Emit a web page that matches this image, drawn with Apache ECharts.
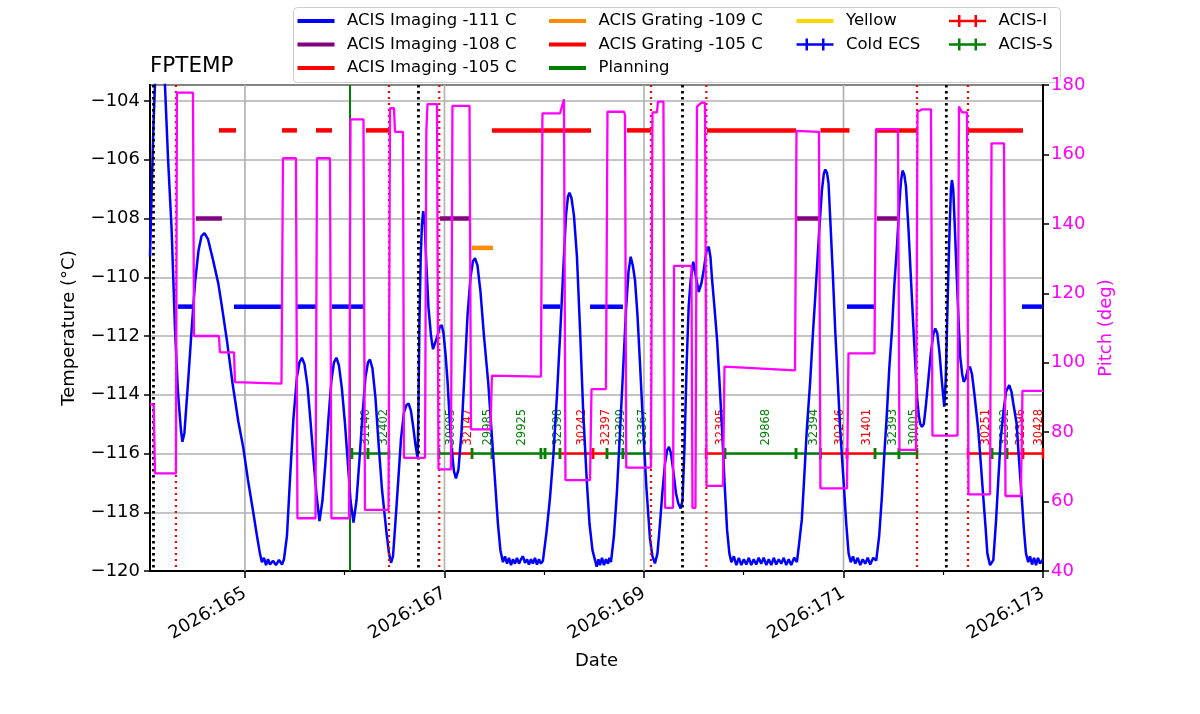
<!DOCTYPE html>
<html lang="en">
<head>
<meta charset="UTF-8">
<title>FPTEMP</title>
<script src="https://cdn.jsdelivr.net/npm/echarts@6/dist/echarts.min.js"></script>
<style>
    html, body { margin: 0; padding: 0; background: #fff; }
    #chart { width: 1200px; height: 714px; }
</style>
</head>
<body>
<div id="chart"></div>
<script type="text/javascript">
    // day of year 2026 -> value
    const xMin = 164.048, xMax = 173.0;
    const dayTicks = [165, 167, 169, 171, 173];
    const dayMinorTicks = [166, 168, 170, 172];
    const dayGrid = [165, 167, 169, 171];

    // FPTEMP model (deg C)
    const fptemp = [
        [164.048, -109.3], [164.065, -107.0], [164.083, -104.8], [164.098, -103.4], [164.118, -102.2],
        [164.148, -101.8], [164.178, -102.8], [164.198, -103.46], [164.228, -105.9], [164.265, -108.4],
        [164.298, -111.7], [164.328, -113.9], [164.358, -115.2], [164.373, -115.6], [164.393, -115.3],
        [164.431, -113.5], [164.469, -111.6], [164.499, -110.2], [164.534, -109.1], [164.564, -108.6],
        [164.594, -108.5], [164.629, -108.7], [164.679, -109.4], [164.732, -110.2], [164.769, -111.0],
        [164.817, -112.1], [164.875, -113.6], [164.933, -114.9], [164.983, -115.8], [165.030, -116.9],
        [165.083, -118.0], [165.120, -118.8], [165.150, -119.4], [165.170, -119.7], [165.190, -119.55],
        [165.211, -119.8], [165.231, -119.6], [165.251, -119.78], [165.281, -119.65], [165.311, -119.8],
        [165.341, -119.62], [165.371, -119.78], [165.391, -119.6], [165.421, -118.8], [165.451, -116.9],
        [165.486, -114.8], [165.521, -113.4], [165.546, -112.9], [165.571, -112.74], [165.596, -112.95],
        [165.627, -113.7], [165.657, -114.9], [165.687, -116.2], [165.717, -117.4], [165.747, -118.3],
        [165.777, -117.6], [165.807, -116.3], [165.837, -114.8], [165.867, -113.5], [165.892, -112.9],
        [165.917, -112.74], [165.942, -113.0], [165.972, -113.8], [166.003, -115.0], [166.033, -116.4],
        [166.058, -117.6], [166.088, -118.35], [166.118, -117.6], [166.148, -116.2], [166.178, -114.7],
        [166.208, -113.4], [166.233, -112.9], [166.253, -112.8], [166.278, -113.1], [166.308, -114.1],
        [166.338, -115.6], [166.373, -117.2], [166.419, -118.7], [166.444, -119.4], [166.464, -119.72],
        [166.484, -119.5], [166.509, -118.3], [166.537, -116.9], [166.564, -115.5], [166.594, -114.6],
        [166.619, -114.35], [166.641, -114.3], [166.664, -114.55], [166.687, -115.1], [166.709, -115.7],
        [166.731, -116.16], [166.739, -114.5], [166.749, -111.5], [166.762, -109.3], [166.774, -108.2],
        [166.787, -107.75], [166.802, -108.2], [166.819, -109.6], [166.839, -111.0], [166.865, -112.0],
        [166.885, -112.45], [166.905, -112.45], [166.930, -112.0], [166.952, -111.7], [166.972, -111.63],
        [166.990, -111.9], [167.010, -112.6], [167.030, -113.5], [167.050, -114.7], [167.070, -115.8],
        [167.095, -116.6], [167.115, -116.85], [167.140, -116.55], [167.170, -115.3], [167.201, -113.3],
        [167.231, -111.3], [167.261, -110.0], [167.286, -109.45], [167.306, -109.35], [167.331, -109.6],
        [167.361, -110.5], [167.396, -112.0], [167.439, -113.6], [167.471, -115.2], [167.506, -116.9],
        [167.536, -118.4], [167.561, -119.3], [167.586, -119.7], [167.607, -119.5], [167.627, -119.75],
        [167.647, -119.55], [167.667, -119.8], [167.687, -119.6], [167.707, -119.75], [167.727, -119.55],
        [167.747, -119.75], [167.767, -119.6], [167.787, -119.5], [167.807, -119.72], [167.827, -119.6],
        [167.847, -119.78], [167.867, -119.6], [167.887, -119.75], [167.907, -119.55], [167.927, -119.78],
        [167.947, -119.6], [167.967, -119.75], [167.987, -119.65], [168.022, -118.7], [168.058, -117.5],
        [168.093, -116.0], [168.128, -114.0], [168.163, -111.7], [168.193, -109.6], [168.218, -107.9],
        [168.238, -107.25], [168.253, -107.12], [168.273, -107.3], [168.298, -107.9], [168.328, -109.3],
        [168.358, -111.7], [168.391, -114.6], [168.426, -116.9], [168.454, -118.4], [168.484, -119.3],
        [168.526, -119.85], [168.544, -119.6], [168.559, -119.8], [168.579, -119.55], [168.599, -119.8],
        [168.619, -119.6], [168.639, -119.75], [168.654, -119.55], [168.669, -119.7],
        [168.699, -118.8], [168.729, -117.3], [168.759, -115.3], [168.790, -113.2], [168.820, -111.1],
        [168.845, -109.8], [168.867, -109.3], [168.888, -109.6], [168.910, -110.1], [168.935, -111.3],
        [168.960, -112.93], [168.993, -115.2], [169.025, -117.2], [169.060, -118.9], [169.085, -119.5],
        [169.110, -119.74], [169.135, -119.4], [169.160, -118.4], [169.185, -117.3], [169.211, -116.33],
        [169.231, -115.9], [169.251, -115.77], [169.271, -116.0], [169.294, -116.6], [169.321, -117.35],
        [169.344, -117.7], [169.368, -117.87], [169.386, -117.6], [169.406, -115.8], [169.428, -112.93],
        [169.448, -111.0], [169.468, -110.1], [169.494, -109.47], [169.516, -109.9], [169.549, -110.5],
        [169.576, -110.2], [169.599, -109.75], [169.626, -109.1], [169.649, -108.96], [169.666, -109.3],
        [169.683, -110.1], [169.706, -111.0], [169.733, -112.14], [169.756, -113.5], [169.783, -115.2],
        [169.806, -116.9], [169.833, -118.6], [169.856, -119.4], [169.876, -119.7], [169.901, -119.5],
        [169.926, -119.8], [169.951, -119.55], [169.976, -119.8], [170.001, -119.6], [170.026, -119.78],
        [170.051, -119.55], [170.075, -119.8], [170.100, -119.6], [170.125, -119.78], [170.150, -119.55],
        [170.175, -119.75], [170.200, -119.55], [170.226, -119.8], [170.251, -119.6], [170.276, -119.8],
        [170.301, -119.55], [170.326, -119.78], [170.351, -119.6], [170.376, -119.75], [170.401, -119.55],
        [170.426, -119.8], [170.451, -119.6], [170.476, -119.8], [170.505, -119.55], [170.533, -119.7],
        [170.554, -119.1], [170.582, -118.26], [170.605, -116.9],
        [170.632, -115.2], [170.667, -113.5], [170.692, -112.0], [170.717, -110.66], [170.757, -108.39],
        [170.784, -107.03], [170.802, -106.5], [170.817, -106.33], [170.835, -106.45], [170.850, -106.8],
        [170.867, -108.0], [170.892, -109.8], [170.917, -111.8], [170.942, -113.5], [170.967, -115.2],
        [171.000, -116.9], [171.028, -118.4], [171.051, -119.4], [171.073, -119.7], [171.095, -119.5],
        [171.118, -119.75], [171.143, -119.55], [171.168, -119.8], [171.193, -119.6], [171.218, -119.75],
        [171.243, -119.55], [171.268, -119.78], [171.298, -119.55], [171.328, -119.65], [171.358, -118.8],
        [171.385, -117.47], [171.408, -116.1], [171.435, -114.63], [171.459, -113.1], [171.486, -111.8],
        [171.509, -110.3], [171.536, -108.96], [171.562, -107.4], [171.577, -106.7], [171.592, -106.37],
        [171.609, -106.5], [171.626, -106.9], [171.652, -108.39], [171.677, -110.1], [171.702, -111.8],
        [171.737, -114.07], [171.755, -114.7], [171.770, -115.0], [171.787, -115.09], [171.805, -115.0],
        [171.825, -114.4], [171.850, -113.5], [171.875, -112.6], [171.900, -111.95], [171.920, -111.74],
        [171.940, -111.9], [171.963, -112.6], [171.985, -113.5], [172.010, -114.41], [172.025, -113.5],
        [172.037, -111.8], [172.050, -110.0], [172.065, -108.2], [172.077, -107.0], [172.087, -106.69],
        [172.100, -107.0], [172.115, -108.2], [172.137, -110.1], [172.155, -111.6], [172.170, -112.7],
        [172.190, -113.3], [172.205, -113.56], [172.225, -113.45], [172.245, -113.15], [172.268, -113.05],
        [172.288, -113.3], [172.313, -114.0], [172.351, -115.2], [172.378, -116.4], [172.401, -117.47],
        [172.424, -118.5], [172.442, -119.4], [172.469, -119.8], [172.502, -119.63], [172.529, -118.3],
        [172.552, -116.9], [172.576, -115.5], [172.602, -114.63], [172.629, -113.9], [172.662, -113.67],
        [172.684, -113.9], [172.702, -114.29], [172.736, -115.0], [172.759, -116.2], [172.786, -117.47],
        [172.809, -118.6], [172.829, -119.4], [172.852, -119.7], [172.870, -119.5], [172.890, -119.78],
        [172.910, -119.55], [172.930, -119.8], [172.950, -119.55], [172.970, -119.75], [173.000, -119.6]
    ];

    // pitch (deg)
    const pitch = [
        [164.048, 88.0], [164.085, 88.0], [164.098, 68.1], [164.308, 68.1], [164.318, 177.8],
        [164.479, 177.8], [164.489, 107.7], [164.739, 107.7], [164.749, 103.0], [164.890, 103.0],
        [164.900, 94.4], [165.366, 94.0], [165.381, 158.9], [165.511, 158.9], [165.526, 55.2],
        [165.707, 55.2], [165.722, 158.9], [165.852, 158.9], [165.867, 55.2], [166.043, 55.2],
        [166.058, 170.1], [166.188, 170.1], [166.203, 57.6], [166.439, 57.6], [166.454, 173.3],
        [166.494, 173.3], [166.504, 166.5], [166.584, 166.5], [166.594, 72.6], [166.805, 72.6],
        [166.818, 166.5], [166.830, 174.5], [166.925, 174.5], [166.940, 69.3], [167.065, 69.3],
        [167.080, 174.0], [167.251, 174.0], [167.266, 80.8], [167.461, 80.8], [167.476, 96.3],
        [167.967, 96.0], [167.982, 171.8], [168.158, 171.8], [168.198, 175.9], [168.213, 66.2],
        [168.459, 66.2], [168.474, 92.4], [168.619, 92.4], [168.634, 172.3], [168.800, 172.3],
        [168.810, 171.3], [168.822, 69.8], [169.070, 69.8], [169.085, 172.1], [169.130, 172.1],
        [169.140, 175.2], [169.195, 175.2], [169.211, 58.2], [169.291, 58.2], [169.301, 127.9],
        [169.476, 127.9], [169.486, 58.2], [169.516, 58.2], [169.531, 173.8], [169.576, 174.9],
        [169.612, 174.9], [169.627, 64.5], [169.792, 64.5], [169.807, 98.9], [170.514, 97.8],
        [170.529, 166.8], [170.754, 166.5], [170.769, 63.8], [171.035, 63.8], [171.050, 102.7],
        [171.311, 102.7], [171.326, 167.3], [171.546, 167.3], [171.561, 74.9], [171.727, 74.9],
        [171.742, 172.3], [171.790, 173.0], [171.877, 173.0], [171.892, 79.0], [172.143, 79.0],
        [172.158, 173.8], [172.175, 173.8], [172.190, 172.1], [172.238, 172.1], [172.253, 62.1],
        [172.469, 62.1], [172.484, 163.2], [172.609, 163.2], [172.624, 61.6], [172.779, 61.6],
        [172.794, 91.9], [173.000, 91.9]
    ];

    // limit bars: [start, end]
    const imaging111 = [[164.328, 164.479], [164.890, 165.371], [165.521, 165.712], [165.872, 166.183],
        [167.987, 168.158], [168.459, 168.789], [171.035, 171.316], [172.789, 173.0]];
    const imaging108 = [[164.509, 164.769], [166.955, 167.246], [170.534, 170.754], [171.336, 171.536]];
    const imaging105 = [[164.739, 164.910], [165.371, 165.521], [165.712, 165.872], [166.213, 166.454],
        [167.476, 168.469], [168.830, 169.070], [169.632, 170.524], [170.769, 171.060],
        [171.326, 171.737], [172.248, 172.799]];
    const grating109 = [[167.276, 167.486]];
    const limitLevels = {i111: -111, i108: -108, i105: -105, g109: -109};

    // vertical event lines
    const blackDotted = [164.083, 166.739, 169.386, 172.031];
    const redDotted = [164.308, 166.444, 166.948, 169.070, 169.625, 171.737, 172.248];
    const planningDays = [166.053];

    // observations
    const obsIds = ['31140', '32402', '30005', '32147', '29985', '29925', '', '32398', '30242', '32397',
        '32399', '32367', '32395', '29868', '32394', '30246', '31401', '32393', '30005', '30251',
        '32392', '32396', '30428'];
    const obsInstr = ['S', 'S', 'S', 'I', 'S', 'S', 'S', 'S', 'I', 'I',
        'S', 'S', 'I', 'S', 'S', 'I', 'I', 'S', 'S', 'I',
        'S', 'I', 'I'];
    const obsStart = [166.073, 166.233, 166.945, 167.075, 167.276, 167.476, 167.967, 168.008, 168.158, 168.489,
        168.629, 168.789, 169.622, 169.812, 170.524, 170.769, 171.035, 171.316, 171.556, 172.248,
        172.489, 172.639, 172.799];
    const obsEnd = [166.233, 166.444, 167.075, 167.276, 167.476, 167.967, 168.008, 168.158, 168.489, 168.629,
        168.789, 169.070, 169.812, 170.524, 170.769, 171.035, 171.316, 171.556, 171.737, 172.489,
        172.639, 172.799, 173.0];
    const acisLevel = -116;

    const FONT = 'DejaVu Sans';
    const BLUE = '#0000ff', PURPLE = '#800080', RED = '#ff0000', ORANGE = '#ff8c00',
        GOLD = '#ffd700', GREEN = '#008000', MAGENTA = '#ff00ff';

    function barSeries(name, segs, level, color) {
        return {
            name: name,
            type: 'custom',
            z: 3,
            itemStyle: {color: color},
            data: segs.map(s => [s[0], s[1], level]),
            encode: {x: [0, 1], y: 2},
            renderItem: function (params, api) {
                const a = api.coord([api.value(0), api.value(2)]);
                const b = api.coord([api.value(1), api.value(2)]);
                return {
                    type: 'line',
                    shape: {x1: a[0], y1: a[1], x2: b[0], y2: b[1]},
                    style: {stroke: color, lineWidth: 4.5}
                };
            }
        };
    }

    function vlineSeries(name, days, color, width, dash, z) {
        return {
            name: name,
            type: 'custom',
            z: z,
            silent: true,
            itemStyle: {color: color},
            data: days.map(d => [d, -120]),
            encode: {x: 0, y: 1},
            renderItem: function (params, api) {
                const p = api.coord([api.value(0), api.value(1)]);
                const cs = params.coordSys;
                return {
                    type: 'line',
                    shape: {x1: p[0], y1: cs.y, x2: p[0], y2: cs.y + cs.height},
                    style: {stroke: color, lineWidth: width, lineDash: dash}
                };
            }
        };
    }

    function acisSeries(name, instr, color) {
        const rows = [];
        for (let i = 0; i < obsIds.length; i++) {
            if (obsInstr[i] === instr) rows.push([obsStart[i], obsEnd[i], acisLevel, obsIds[i]]);
        }
        return {
            name: name,
            type: 'custom',
            z: 4,
            itemStyle: {color: color},
            data: rows,
            encode: {x: [0, 1], y: 2},
            renderItem: function (params, api) {
                const x0 = api.value(0), x1 = api.value(1);
                const a = api.coord([x0, api.value(2)]);
                const b = api.coord([x1, api.value(2)]);
                const m = api.coord([(x0 + x1) / 2, api.value(2)]);
                const label = rows[params.dataIndex][3];
                const children = [
                    {type: 'line', shape: {x1: a[0], y1: a[1], x2: b[0], y2: b[1]},
                        style: {stroke: color, lineWidth: 2.5}},
                    {type: 'rect', shape: {x: a[0] - 1.25, y: a[1] - 5.5, width: 2.5, height: 11},
                        style: {fill: color}},
                    {type: 'rect', shape: {x: b[0] - 1.25, y: b[1] - 5.5, width: 2.5, height: 11},
                        style: {fill: color}}
                ];
                if (label) {
                    children.push({
                        type: 'text',
                        x: m[0], y: m[1] - 8,
                        rotation: Math.PI / 2,
                        style: {text: label, fill: color, fontSize: 11.5, fontFamily: FONT,
                            align: 'left', verticalAlign: 'top'}
                    });
                }
                return {type: 'group', children: children};
            }
        };
    }

    const crossIcon = 'path://M0,4.75H37V7.25H0Z M9,0H11.5V12H9Z M25.5,0H28V12H25.5Z';

    const legendBase = {
        orient: 'vertical',
        itemWidth: 37,
        itemHeight: 4,
        itemGap: 5.5,
        padding: 0,
        icon: 'rect',
        selectedMode: false,
        textStyle: {fontSize: 16.5, color: '#000', fontFamily: FONT, lineHeight: 18, padding: [0, 0, 0, 7.5]}
    };

    const chart = echarts.init(document.getElementById('chart'));

    const option = {
        animation: false,
        backgroundColor: '#fff',
        textStyle: {fontFamily: FONT},
        title: {
            text: 'FPTEMP', left: 150, top: 55, padding: 0,
            textStyle: {fontSize: 21.5, fontWeight: 'normal', color: '#000', fontFamily: FONT}
        },
        graphic: [{
            type: 'rect', left: 293, top: 7, z: 0,
            shape: {width: 767, height: 75, r: 4},
            style: {fill: 'rgba(255,255,255,0.85)', stroke: '#cccccc', lineWidth: 1}
        }],
        legend: [
            Object.assign({}, legendBase, {left: 297.5, top: 12,
                data: ['ACIS Imaging -111 C', 'ACIS Imaging -108 C', 'ACIS Imaging -105 C']}),
            Object.assign({}, legendBase, {left: 549, top: 12,
                data: ['ACIS Grating -109 C', 'ACIS Grating -105 C', 'Planning']}),
            Object.assign({}, legendBase, {left: 796.5, top: 12, data: ['Yellow']}),
            Object.assign({}, legendBase, {left: 796.5, top: 35.5, itemHeight: 12,
                data: [{name: 'Cold ECS', icon: crossIcon}]}),
            Object.assign({}, legendBase, {left: 949, top: 12, itemHeight: 12,
                data: [{name: 'ACIS-I', icon: crossIcon}, {name: 'ACIS-S', icon: crossIcon}]})
        ],
        grid: {
            left: 150, top: 85, width: 893, height: 486,
            show: true, borderColor: '#000', borderWidth: 2, backgroundColor: 'transparent'
        },
        xAxis: [{
            type: 'value', min: xMin, max: xMax,
            name: 'Date', nameLocation: 'middle', nameGap: 81,
            nameTextStyle: {fontSize: 18, color: '#000'},
            axisLine: {show: true, lineStyle: {color: '#000', width: 2}},
            axisTick: {show: true, length: 7, customValues: dayTicks, lineStyle: {color: '#000', width: 1.5}},
            axisLabel: {
                customValues: dayTicks, rotate: 30, fontSize: 18, color: '#000', margin: 21,
                formatter: v => '2026:' + Math.round(v)
            },
            splitLine: {show: false}
        }, {
            type: 'value', min: xMin, max: xMax, position: 'bottom',
            axisLine: {show: false},
            axisTick: {show: true, length: 4, customValues: dayMinorTicks, lineStyle: {color: '#000', width: 1.2}},
            axisLabel: {show: false},
            splitLine: {show: false}
        }],
        yAxis: [{
            type: 'value', min: -120, max: -103.455, interval: 2, position: 'left',
            name: 'Temperature (°C)', nameLocation: 'middle', nameGap: 72, nameRotate: 90,
            nameTextStyle: {fontSize: 18, color: '#000'},
            axisLine: {show: true, lineStyle: {color: '#000', width: 2}},
            axisTick: {show: true, length: 6, lineStyle: {color: '#000', width: 1.5}},
            axisLabel: {
                fontSize: 18, color: '#000', margin: 10, showMaxLabel: false,
                formatter: v => String(v).replace('-', '\u2212')
            },
            splitLine: {show: true, lineStyle: {color: '#b0b0b0', width: 1.6}}
        }, {
            type: 'value', min: 40, max: 180, interval: 20, position: 'right',
            name: 'Pitch (deg)', nameLocation: 'middle', nameGap: 54, nameRotate: 90,
            nameTextStyle: {fontSize: 18, color: MAGENTA},
            axisLine: {show: true, lineStyle: {color: '#000', width: 2}},
            axisTick: {show: true, length: 6, lineStyle: {color: '#000', width: 1.5}},
            axisLabel: {fontSize: 18, color: MAGENTA, margin: 8},
            splitLine: {show: false}
        }],
        series: [
            vlineSeries('dayGrid', dayGrid, '#b0b0b0', 1.6, null, 1),
            barSeries('ACIS Imaging -111 C', imaging111, limitLevels.i111, BLUE),
            barSeries('ACIS Imaging -108 C', imaging108, limitLevels.i108, PURPLE),
            barSeries('ACIS Imaging -105 C', imaging105, limitLevels.i105, RED),
            barSeries('ACIS Grating -109 C', grating109, limitLevels.g109, ORANGE),
            barSeries('ACIS Grating -105 C', [], limitLevels.i105, RED),
            barSeries('Yellow', [], -105, GOLD),
            barSeries('Cold ECS', [], -105, BLUE),
            vlineSeries('Planning', planningDays, GREEN, 2, null, 3),
            acisSeries('ACIS-I', 'I', RED),
            acisSeries('ACIS-S', 'S', GREEN),
            {
                name: 'FPTEMP', type: 'line', z: 5, data: fptemp,
                showSymbol: false, symbol: 'none', clip: true,
                lineStyle: {color: BLUE, width: 2.5}
            },
            vlineSeries('perigee', blackDotted, '#000', 2.8, [2.5, 3.5], 6),
            vlineSeries('radzone', redDotted, RED, 2.2, [2, 4], 6),
            {
                name: 'Pitch', type: 'line', yAxisIndex: 1, z: 7, data: pitch,
                showSymbol: false, symbol: 'none', clip: true,
                lineStyle: {color: MAGENTA, width: 2.3}
            }
        ]
    };

    chart.setOption(option);
</script>
</body>
</html>
